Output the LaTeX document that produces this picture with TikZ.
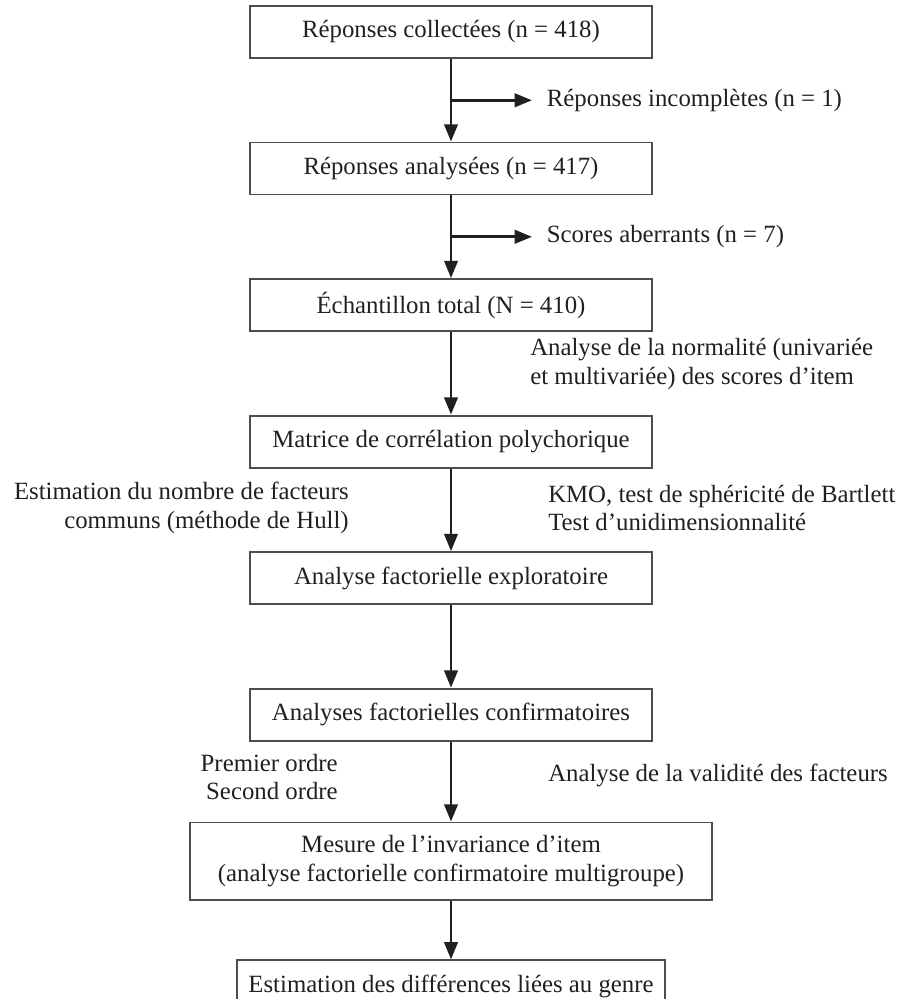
\documentclass[tikz,border=0pt]{standalone}
\usepackage{fontspec}
\setmainfont{Liberation Serif}
\usepackage{tikz}
\usetikzlibrary{arrows.meta,positioning,calc}
\definecolor{ink}{HTML}{231F20}
\definecolor{frame}{HTML}{4D4D4D}

\begin{document}
\begin{tikzpicture}[x=0.75pt,y=-0.75pt,node distance=62pt,>={Triangle[length=13pt,width=10pt]},font=\fontsize{18.6}{21.5}\selectfont,text=ink]
		\tikzstyle{stage}=[rectangle, draw=frame, line width=1.4pt, minimum width=302pt, minimum height=39pt, inner sep=0pt, align=center]
		\tikzstyle{flow}=[->, draw=ink, line width=2.2pt]
		\tikzstyle{note}=[inner sep=0pt]
		\tikzstyle{side}=[inner sep=0pt, inner xsep=11pt]

		\useasboundingbox (0,0) rectangle (910,999);

		% main chain
		\node [stage] (rep) at (451,32) {Réponses collectées (n = 418)};
		\node [stage] (ana) [below=of rep] {Réponses analysées (n = 417)};
		\node [stage] (ech) [below=of ana] {Échantillon total (N = 410)};
		\node [stage] (mat) [below=of ech] {Matrice de corrélation polychorique};
		\node [stage] (afe) [below=of mat] {Analyse factorielle exploratoire};
		\node [stage] (afc) [below=of afe] {Analyses factorielles confirmatoires};
		\node [stage, minimum width=392pt, minimum height=58pt] (inv) [below=60pt of afc] {Mesure de l’invariance d’item\\(analyse factorielle confirmatoire multigroupe)};
		\node [stage, minimum width=321pt] (gen) [below=44pt of inv] {Estimation des différences liées au genre};

		\coordinate (b1) at ($(rep.south)!0.5!(ana.north)$);
		\coordinate (b2) at ($(ana.south)!0.5!(ech.north)$);

		% side notes
		\node [side] (inc) [right=60.75pt of b1] {Réponses incomplètes (n = 1)};
		\node [side] (abe) [right=60.75pt of b2] {Scores aberrants (n = 7)};
		\node [note, align=left, anchor=west] (nor) at (530,364) {Analyse de la normalité (univariée\\et multivariée) des scores d’item};
		\node [note, align=right, anchor=east] (hull) at (349,508) {Estimation du nombre de facteurs\\communs (méthode de Hull)};
		\node [note, align=left, anchor=west] (kmo) at (548,508) {KMO, test de sphéricité de Bartlett\\Test d’unidimensionnalité};
		\node [note, align=right, anchor=east] (ord) at (338,777) {Premier ordre\\Second ordre};
		\node [note, anchor=west] (val) at (548,775) {Analyse de la validité des facteurs};

		\draw [flow] (rep.south) -- (ana.north);
		\draw [flow] (b1) -- (inc.west);
		\draw [flow] (ana.south) -- (ech.north);
		\draw [flow] (b2) -- (abe.west);
		\draw [flow] (ech.south) -- (mat.north);
		\draw [flow] (mat.south) -- (afe.north);
		\draw [flow] (afe.south) -- (afc.north);
		\draw [flow] (afc.south) -- (inv.north);
		\draw [flow] (inv.south) -- (gen.north);
	\end{tikzpicture}
\end{document}
